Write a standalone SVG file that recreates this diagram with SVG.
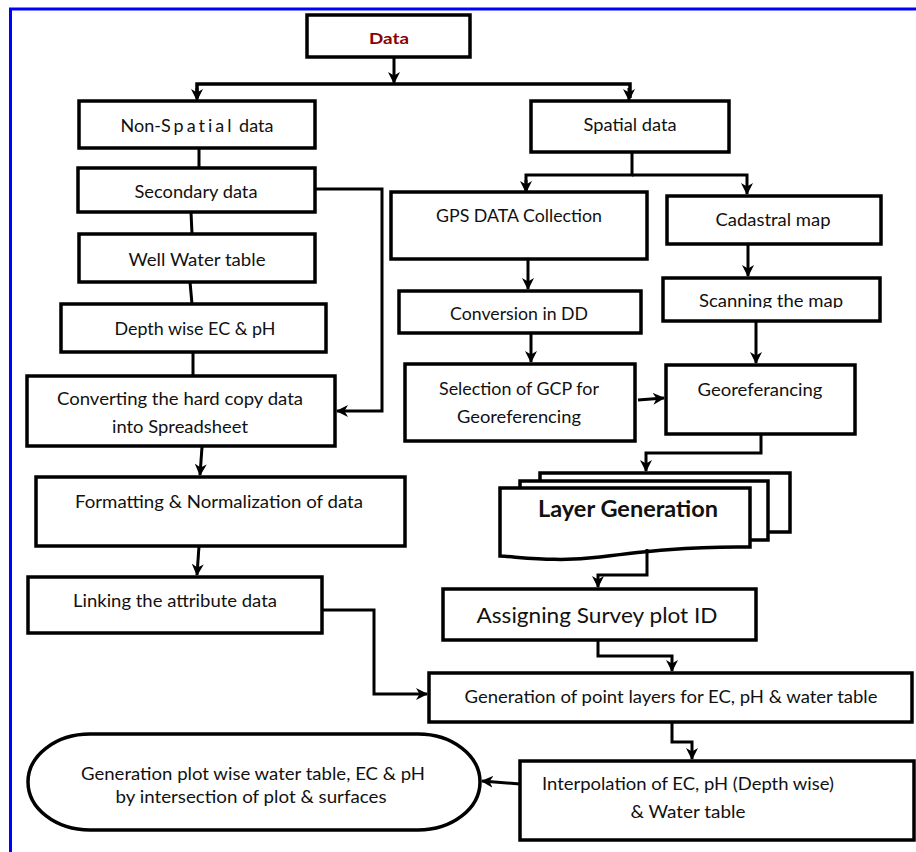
<svg xmlns="http://www.w3.org/2000/svg" width="916" height="852" viewBox="0 0 916 852">
<style>
.box{fill:#fff;stroke:#000;stroke-width:3.5}
.t{font-family:Lato,"Liberation Sans",sans-serif;font-size:18px;fill:#111;text-anchor:middle}
.s{font-size:17px}
.c{fill:none;stroke:#000;stroke-width:3}
</style>
<defs>
<marker id="ah" viewBox="0 0 12 12" refX="11" refY="6" markerWidth="12" markerHeight="12" markerUnits="userSpaceOnUse" orient="auto">
<path d="M0,0 L12,6 L0,12 L3.5,6 z" fill="#000"/>
</marker>
<clipPath id="clipA"><rect x="0" y="0" width="916" height="436"/></clipPath>
<clipPath id="clipB"><rect x="0" y="0" width="916" height="308"/></clipPath>
</defs>
<rect width="916" height="852" fill="#fff"/>
<rect x="10.5" y="9" width="1000" height="1000" fill="none" stroke="#0000ff" stroke-width="3"/>

<g id="data"><rect class="box" x="307" y="15" width="163" height="42"/><text class="t" x="389" y="44" style="font-size:16px;font-weight:bold;fill:#8b0000" textLength="40" lengthAdjust="spacingAndGlyphs">Data</text></g>
<g id="nonspatial"><rect class="box" x="79" y="101" width="236" height="47"/><text class="t" x="197" y="132">Non-<tspan letter-spacing="3">Spatial</tspan> data</text></g>
<g id="secondary"><rect class="box" x="78" y="168" width="237" height="44"/><text class="t" x="196" y="198" textLength="123" lengthAdjust="spacingAndGlyphs">Secondary data</text></g>
<g id="well"><rect class="box" x="79" y="234" width="236" height="48"/><text class="t" x="197" y="266" textLength="137" lengthAdjust="spacingAndGlyphs">Well Water table</text></g>
<g id="depth"><rect class="box" x="61" y="304" width="265" height="48"/><text class="t" x="195" y="335" textLength="161" lengthAdjust="spacingAndGlyphs">Depth wise EC &amp; pH</text></g>
<g id="converting"><rect class="box" x="27" y="376" width="308" height="70"/><text class="t" x="180" y="405" textLength="246" lengthAdjust="spacingAndGlyphs">Converting the hard copy data</text><text class="t" x="180" y="433" clip-path="url(#clipA)" textLength="136" lengthAdjust="spacingAndGlyphs">into Spreadsheet</text></g>
<g id="formatting"><rect class="box" x="36" y="477" width="369" height="69"/><text class="t" x="219" y="508" textLength="288" lengthAdjust="spacingAndGlyphs">Formatting &amp; Normalization of data</text></g>
<g id="linking"><rect class="box" x="28" y="577" width="294" height="56"/><text class="t" x="175" y="607" textLength="204" lengthAdjust="spacingAndGlyphs">Linking the attribute data</text></g>

<g id="spatial"><rect class="box" x="531" y="101" width="198" height="51"/><text class="t" x="630" y="131" textLength="93" lengthAdjust="spacingAndGlyphs">Spatial data</text></g>
<g id="gps"><rect class="box" x="391" y="192" width="256" height="67"/><text class="t" x="519" y="222" textLength="166" lengthAdjust="spacingAndGlyphs">GPS DATA Collection</text></g>
<g id="cadastral"><rect class="box" x="667" y="196" width="214" height="48"/><text class="t" x="773" y="226" textLength="115" lengthAdjust="spacingAndGlyphs">Cadastral map</text></g>
<g id="conversion"><rect class="box" x="399" y="291" width="242" height="42"/><text class="t" x="519" y="320" textLength="138" lengthAdjust="spacingAndGlyphs">Conversion in DD</text></g>
<g id="scanning"><rect class="box" x="663" y="278" width="217" height="43"/><text class="t" x="771" y="307" clip-path="url(#clipB)" textLength="144" lengthAdjust="spacingAndGlyphs">Scanning the map</text></g>
<g id="selection"><rect class="box" x="405" y="364" width="230" height="77"/><text class="t" x="519" y="395" textLength="160" lengthAdjust="spacingAndGlyphs">Selection of GCP for</text><text class="t" x="519" y="423" textLength="124" lengthAdjust="spacingAndGlyphs">Georeferencing</text></g>
<g id="georef"><rect class="box" x="666" y="365" width="189" height="69"/><text class="t" x="760" y="396" textLength="125" lengthAdjust="spacingAndGlyphs">Georeferancing</text></g>
<g id="layer">
<rect class="box" x="540" y="473" width="250" height="59"/>
<rect class="box" x="520" y="481" width="248" height="59"/>
<path class="box" d="M500,488 H750 V547 C690,546 640,552 600,557 C560,562 530,558 500,556 Z"/>
<text class="t" x="628" y="517" style="font-size:22px;font-weight:bold" textLength="180" lengthAdjust="spacingAndGlyphs">Layer Generation</text>
</g>
<g id="assigning"><rect class="box" x="443" y="589" width="313" height="51"/><text class="t" x="597" y="623" style="font-size:22px" textLength="241" lengthAdjust="spacingAndGlyphs">Assigning Survey plot ID</text></g>
<g id="generation"><rect class="box" x="429" y="673" width="483" height="49"/><text class="t s" x="671" y="703" textLength="413" lengthAdjust="spacingAndGlyphs">Generation of point layers for EC, pH &amp; water table</text></g>
<g id="interpolation"><rect class="box" x="520" y="761" width="394" height="79"/><text class="t s" x="688" y="790" textLength="292" lengthAdjust="spacingAndGlyphs">Interpolation of EC, pH (Depth wise)</text><text class="t s" x="688" y="818" textLength="115" lengthAdjust="spacingAndGlyphs">&amp; Water table</text></g>
<g id="result"><rect class="box" x="28" y="734" width="452" height="96" rx="62" ry="48"/><text class="t s" x="253" y="780" textLength="344" lengthAdjust="spacingAndGlyphs">Generation plot wise water table, EC &amp; pH</text><text class="t s" x="251" y="803" textLength="271" lengthAdjust="spacingAndGlyphs">by intersection of plot &amp; surfaces</text></g>

<g id="connectors">
<path class="c" d="M394,57 V83" marker-end="url(#ah)"/>
<path class="c" d="M197,98 V84 H630 V98" style="stroke-width:3.5"/>
<path class="c" d="M197,88 V100" marker-end="url(#ah)"/>
<path class="c" d="M629,88 V100" marker-end="url(#ah)"/>
<path class="c" d="M199,148 V168"/>
<path class="c" d="M191,212 L192,234"/>
<path class="c" d="M190,282 L192,304"/>
<path class="c" d="M193,352 V376"/>
<path class="c" d="M315,189 H382 V411 H337" marker-end="url(#ah)"/>
<path class="c" d="M202,447 L200,475" marker-end="url(#ah)"/>
<path class="c" d="M199,546 L197,575" marker-end="url(#ah)"/>
<path class="c" d="M322,610 H374 V694 H427" marker-end="url(#ah)"/>
<path class="c" d="M632,152 V175 H526 V190" />
<path class="c" d="M526,180 V192" marker-end="url(#ah)"/>
<path class="c" d="M632,175 H747 V194" marker-end="url(#ah)"/>
<path class="c" d="M528,259 V289" marker-end="url(#ah)"/>
<path class="c" d="M748,244 V276" marker-end="url(#ah)"/>
<path class="c" d="M531,333 V362" marker-end="url(#ah)"/>
<path class="c" d="M756,321 V363" marker-end="url(#ah)"/>
<path class="c" d="M638,400 L664,398" marker-end="url(#ah)"/>
<path class="c" d="M761,434 V453 H646 V471" marker-end="url(#ah)"/>
<path class="c" d="M647,549 V575 H598 V587" marker-end="url(#ah)"/>
<path class="c" d="M598,640 V656 H672 V671" marker-end="url(#ah)"/>
<path class="c" d="M672,722 V742 H692 V759" marker-end="url(#ah)"/>
<path class="c" d="M520,784 L482,781" marker-end="url(#ah)"/>
</g>
</svg>
